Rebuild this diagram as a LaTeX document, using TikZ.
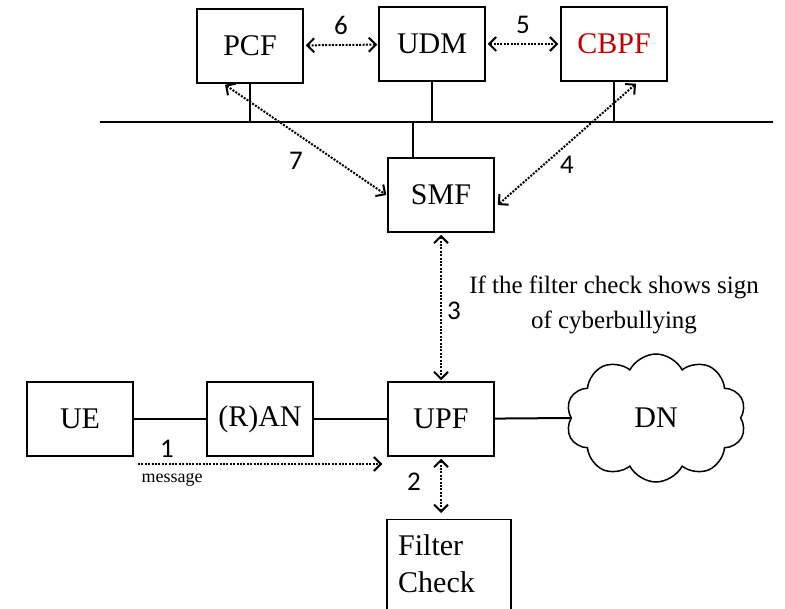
\documentclass[tikz,border=0pt]{standalone}
\usepackage{fontspec}
\setmainfont{Liberation Serif}
\newfontfamily\tnrfont{Liberation Serif}
\newfontfamily\numfont{Carlito}
\usetikzlibrary{arrows.meta,shapes.symbols}
\begin{document}
\begin{tikzpicture}[x=1pt,y=-1pt,
  box/.style={draw, line width=1.5pt, minimum width=106pt, minimum height=74pt, inner sep=0pt, font=\tnrfont\fontsize{30}{36}\selectfont},
  link/.style={line width=2pt},
  sig/.style={line width=2pt, dash pattern=on 2pt off 1.4pt, {Straight Barb[length=7pt,width=14pt,line width=2pt]}-{Straight Barb[length=7pt,width=14pt,line width=2pt]}},
  sigone/.style={line width=2pt, dash pattern=on 2pt off 1.4pt, -{Straight Barb[length=7pt,width=14pt,line width=2pt]}},
  num/.style={font=\numfont\fontsize{27}{32}\selectfont, inner sep=0pt},
  note/.style={font=\tnrfont\fontsize{25}{35}\selectfont, align=center, inner sep=0pt}
]
\useasboundingbox (0,0) rectangle (785,609);
% boxes
\node[box] (PCF) at (250,46) {PCF};
\node[box] (UDM) at (432,44) {UDM};
\node[box, text=red!75!black] (CBPF) at (614,44) {CBPF};
\node[box] (SMF) at (441,195) {SMF};
\node[box] (UE) at (80,419) {UE};
\node[box] (RAN) at (260,419) {(R)AN};
\node[box] (UPF) at (441,419) {UPF};
\node[cloud, draw, line width=1.5pt, cloud puffs=10, cloud puff arc=125, aspect=1.45, minimum width=180pt, minimum height=128pt, inner sep=0pt, font=\tnrfont\fontsize{30}{36}\selectfont] (DN) at (656,418) {DN};
\node[draw, line width=1.5pt, minimum width=124pt, minimum height=110pt, anchor=north west, inner sep=0pt] (FC) at (386,519) {};
\node[anchor=north west, inner sep=0pt, align=left, font=\tnrfont\fontsize{30}{37}\selectfont] (FCT) at (398,534) {Filter\\Check};
% bus
\coordinate (busL) at (100,122);
\coordinate (busR) at (773,122);
\draw[line width=2.6pt] (busL) -- (busR);
\draw[link] (PCF.south) -- (PCF.south |- busL);
\draw[link] (UDM.south) -- (UDM.south |- busL);
\draw[link] (CBPF.south) -- (CBPF.south |- busL);
\draw[link] ([xshift=-28pt]SMF.north) -- ([xshift=-28pt]SMF.north |- busL);
% data plane links
\draw[link] (UE) -- (RAN);
\draw[link] (RAN) -- (UPF);
\draw[link] (UPF) -- (DN.west);
% signalling arrows
\draw[sig, shorten <=2pt, shorten >=1pt] (PCF) -- (UDM) node[num, midway, above=9pt] {6};
\draw[sig, shorten <=2pt, shorten >=2pt] (UDM) -- (CBPF) node[num, midway, above=9pt] {5};
\draw[sig] ([xshift=-25pt,yshift=-1pt]PCF.south) -- ([xshift=-1pt]SMF.west);
\node[num] (n7) at (296,161) {7};
\draw[sig] ([xshift=22pt,yshift=-2pt]CBPF.south) -- ([xshift=3pt,yshift=-10pt]SMF.east);
\node[num] (n4) at (567,165) {4};
\draw[sig, shorten <=2pt, shorten >=1pt] (SMF.south) -- (UPF.north);
\node[num] (n3) at (454,311) {3};
\node[note] (cond) at (614,305) {If the filter check shows sign\\of cyberbullying};
\coordinate (m1) at (138,464);
\draw[sigone, shorten >=5pt] (m1) -- (m1 -| UPF.west);
\node[num] (n1) at (167,449) {1};
\node[font=\tnrfont\fontsize{18}{22}\selectfont, inner sep=0pt] (msg) at (172,480) {message};
\draw[sig, shorten <=2pt, shorten >=6pt] (UPF.south) -- (UPF.south |- FC.north);
\node[num] (n2) at (414,482) {2};
\end{tikzpicture}
\end{document}
